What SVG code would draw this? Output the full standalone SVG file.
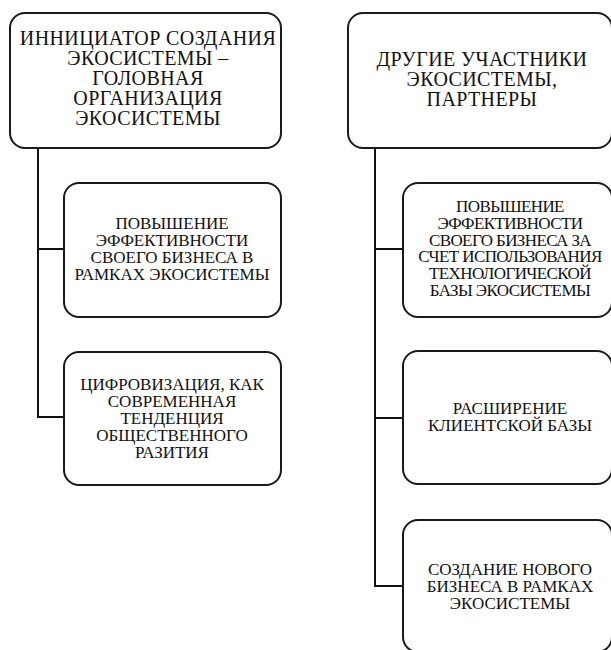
<svg xmlns="http://www.w3.org/2000/svg" width="611" height="650" viewBox="0 0 611 650">
<style>
.box{fill:#fff;stroke:#1a1a1a;stroke-width:2}
.conn{fill:none;stroke:#111;stroke-width:2}
.t{fill:#111;text-anchor:middle;font-family:"Liberation Serif","DejaVu Serif",serif}
.h{font-size:20px;letter-spacing:0.4px}
.c{font-size:17px}
.n{letter-spacing:-0.6px}
</style>
<rect width="611" height="650" fill="#fff"/>
<g id="connectors">
<path class="conn" d="M38 148V417H64M38 249H64"/>
<path class="conn" d="M375 148V586H403M375 249H403M375 418H403"/>
</g>
<g id="n-left-top">
<rect class="box" x="10" y="13" width="271" height="135" rx="15"/>
<text class="t h"><tspan x="148" y="45">ИННИЦИАТОР СОЗДАНИЯ</tspan><tspan x="148" y="65">ЭКОСИСТЕМЫ –</tspan><tspan x="148" y="85">ГОЛОВНАЯ</tspan><tspan x="148" y="105">ОРГАНИЗАЦИЯ</tspan><tspan x="148" y="125">ЭКОСИСТЕМЫ</tspan></text>
</g>
<g id="n-right-top">
<rect class="box" x="348" y="13" width="264" height="135" rx="15"/>
<text class="t h"><tspan x="482" y="66">ДРУГИЕ УЧАСТНИКИ</tspan><tspan x="482" y="86">ЭКОСИСТЕМЫ,</tspan><tspan x="482" y="106">ПАРТНЕРЫ</tspan></text>
</g>
<g id="n-left-1">
<rect class="box" x="64" y="183" width="217" height="134" rx="15"/>
<text class="t c"><tspan x="172" y="229">ПОВЫШЕНИЕ</tspan><tspan x="172" y="246">ЭФФЕКТИВНОСТИ</tspan><tspan x="172" y="263">СВОЕГО БИЗНЕСА В</tspan><tspan x="172" y="280">РАМКАХ ЭКОСИСТЕМЫ</tspan></text>
</g>
<g id="n-left-2">
<rect class="box" x="64" y="352" width="217" height="133" rx="15"/>
<text class="t c"><tspan x="172" y="390">ЦИФРОВИЗАЦИЯ, КАК</tspan><tspan x="172" y="407">СОВРЕМЕННАЯ</tspan><tspan x="172" y="424">ТЕНДЕНЦИЯ</tspan><tspan x="172" y="441">ОБЩЕСТВЕННОГО</tspan><tspan x="172" y="458">РАЗИТИЯ</tspan></text>
</g>
<g id="n-right-1">
<rect class="box" x="403" y="183" width="209" height="134" rx="15"/>
<text class="t c n"><tspan x="510" y="212">ПОВЫШЕНИЕ</tspan><tspan x="510" y="229">ЭФФЕКТИВНОСТИ</tspan><tspan x="510" y="246">СВОЕГО БИЗНЕСА ЗА</tspan><tspan x="510" y="262">СЧЕТ ИСПОЛЬЗОВАНИЯ</tspan><tspan x="510" y="279">ТЕХНОЛОГИЧЕСКОЙ</tspan><tspan x="510" y="296">БАЗЫ ЭКОСИСТЕМЫ</tspan></text>
</g>
<g id="n-right-2">
<rect class="box" x="403" y="351" width="209" height="133" rx="15"/>
<text class="t c"><tspan x="510" y="414">РАСШИРЕНИЕ</tspan><tspan x="510" y="431">КЛИЕНТСКОЙ БАЗЫ</tspan></text>
</g>
<g id="n-right-3">
<rect class="box" x="403" y="520" width="209" height="132" rx="15"/>
<text class="t c"><tspan x="510" y="575">СОЗДАНИЕ НОВОГО</tspan><tspan x="510" y="592">БИЗНЕСА В РАМКАХ</tspan><tspan x="510" y="609">ЭКОСИСТЕМЫ</tspan></text>
</g>
</svg>
